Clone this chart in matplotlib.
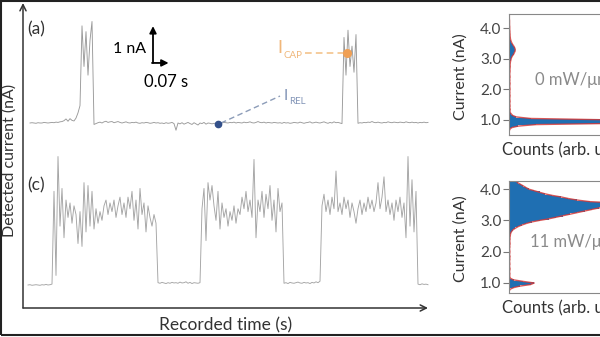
import numpy as np
import matplotlib
matplotlib.use('Agg')
import matplotlib.pyplot as plt
from matplotlib.patches import Rectangle

plt.rcParams['font.family'] = ['Lato', 'DejaVu Sans']

# ---- data ----
# trace (a), 0 mW: current in nA, one sample every 0.01 s
cur_a = [0.95, 0.96, 0.95, 0.94, 0.96, 0.95, 0.95, 0.97, 0.96, 0.95, 0.96, 0.97, 0.96, 0.98, 0.97, 0.99, 1.00,
         1.03, 1.09, 1.01, 1.10, 1.04, 1.02, 1.12, 1.30, 1.55,
         4.30, 2.90, 4.10, 2.60, 3.80, 4.45,
         0.90, 0.93, 0.96, 0.98, 0.95, 0.99, 1.01, 0.97, 0.99, 1.00,
         0.96, 0.98, 1.00, 0.97, 0.95, 0.97, 0.99, 0.96, 0.95, 0.97,
         0.96, 0.98, 0.95, 0.94, 0.96, 0.95, 0.97, 0.96, 0.94, 0.95,
         0.97, 0.95, 0.96, 0.94, 0.95, 0.93, 0.96, 0.94, 0.95, 0.97,
         0.93, 0.70, 0.95, 0.92, 0.96, 0.91, 0.94, 0.97, 0.93, 0.90,
         0.96, 0.92, 0.88, 0.95, 0.93, 0.97, 0.91, 0.95, 0.94, 0.92,
         0.94, 0.93,
         0.92, 0.94, 0.95, 0.97, 0.96, 0.95, 0.97, 0.96, 0.98, 0.95,
         0.97, 0.96, 0.95, 0.98, 0.96, 0.97, 0.99, 0.96, 0.95, 0.97,
         1.00, 0.97, 0.96, 0.98, 0.95, 0.97, 0.96, 0.95, 0.97, 0.96,
         0.95, 0.96, 0.94, 0.97, 0.95, 0.96, 0.94, 0.95, 0.97, 0.96,
         0.95, 0.98, 0.96, 0.94, 0.96, 0.97, 0.99, 0.95, 0.96, 0.98,
         0.96, 0.95, 0.97, 0.99, 0.96, 0.94, 0.97, 0.95, 0.99, 0.96,
         0.97, 0.95, 0.93,
         3.90, 2.60, 4.15, 2.90, 3.60, 2.70, 4.00,
         0.94, 0.96, 0.95, 0.97, 0.96, 0.98, 0.97, 1.00, 0.97, 0.96,
         0.98, 0.96, 0.95, 0.97, 0.96, 0.99, 0.97, 0.96, 0.98, 0.97,
         0.96, 0.98, 0.97, 0.96, 0.99, 0.97, 0.96, 0.98, 0.96, 0.97,
         0.95, 0.97, 0.96, 0.98, 0.96, 0.97]

# trace (c), 11 mW: current in nA, one sample every 0.01 s
cur_c = [0.97, 0.98, 0.96, 0.97, 0.98, 0.97, 0.96, 0.98, 0.97, 0.99, 0.97, 0.98,
         1.00, 4.20, 1.30, 5.40,
         3.0, 4.3, 2.6, 3.9,
         3.3, 3.8, 3.1, 3.7, 3.4,
         2.4, 3.5,
         2.3, 4.5, 2.8, 4.4, 3.0, 4.2, 2.9,
         3.6, 3.1, 3.5, 3.2, 3.7,
         3.9, 3.4, 3.8, 3.5, 3.9, 3.3, 3.7, 4.0, 3.4, 3.8, 3.3, 4.0, 3.6,
         4.2, 3.2, 3.9, 2.9, 4.3, 3.4, 3.8, 2.8, 3.7, 3.3,
         3.0, 3.4, 3.1,
         1.05, 1.03, 1.06, 1.04, 1.02, 1.05, 1.03, 1.06, 1.04, 1.05, 1.03,
         1.07, 1.04, 1.05, 1.08, 1.03, 1.06, 1.02, 1.05, 1.04, 1.03, 1.05,
         3.6, 4.3, 2.5,
         4.5, 3.9, 4.4, 3.7,
         3.2, 4.2, 2.9, 3.8,
         3.3, 3.6, 3.0, 3.5, 3.2, 3.7, 3.1, 3.6, 3.4,
         4.0, 3.6, 4.2, 3.5, 3.9, 3.3,
         5.3, 2.6, 3.9,
         3.5, 4.2, 3.3, 4.1, 3.6, 4.4, 3.2, 3.9, 2.8, 4.3, 3.5, 3.8,
         1.03, 1.05, 1.02, 1.06, 1.04, 1.03, 1.05, 1.07, 1.04, 1.03,
         1.06, 1.04, 1.05, 1.02, 1.06, 1.04, 1.08, 1.05, 1.10,
         3.7, 4.1, 3.5, 3.9, 3.4,
         4.0, 3.6, 4.9, 3.5, 3.8,
         3.4, 4.0, 3.6, 3.9, 3.3, 3.8, 3.5, 3.1,
         3.6, 3.9, 3.4, 3.8, 3.5, 4.0, 3.6, 3.9, 3.5, 3.8,
         4.5, 3.6, 4.0, 4.7, 3.5, 3.9, 3.4,
         3.8, 3.2, 3.9, 3.5, 4.0, 3.3, 3.8,
         2.6, 5.4, 3.0, 4.6, 2.8, 4.2,
         1.00, 0.98, 1.01, 0.99, 1.00, 0.98]

dt = 0.01
t0_a = 0.035
t0_c = 0.025

# marked levels in trace (a)
i_cap, t_cap = 3.35, 1.62
i_rel, t_rel = 0.90, 0.975

# histograms (counts, arb. units) on 0.05 nA bins from 0.50 nA
hist_centers = 0.50 + 0.05 * np.arange(80)
hist_0mw = [0, 0, 0, 0.002, 0.005, 0.015, 0.05, 0.15, 0.70, 2.20, 0.60, 0.12, 0.04, 0.02, 0.012,
            0.006, 0.005, 0.007, 0.004, 0.006, 0.005, 0.004, 0.006, 0.005, 0.004, 0.005,
            0.006, 0.004, 0.005, 0.004, 0.006, 0.005, 0.004, 0.005, 0.006, 0.004, 0.005,
            0.004, 0.006, 0.005, 0.004, 0.005, 0.006, 0.005, 0.006, 0.007, 0.006, 0.007,
            0.008, 0.010, 0.012, 0.015, 0.020, 0.026, 0.030, 0.034, 0.035, 0.032, 0.028,
            0.022, 0.017, 0.013, 0.010, 0.008,
            0.007, 0.006, 0.006, 0.005, 0.005, 0.004, 0.004, 0.004, 0.003, 0.003, 0.003,
            0.003, 0.002, 0.002, 0.002, 0.002]
hist_11mw = [0, 0, 0, 0, 0, 0.002, 0.006, 0.025, 0.06, 0.12, 0.14, 0.08, 0.025, 0.008, 0.004,
             0.004, 0.005, 0.003, 0.004, 0.006, 0.004, 0.003, 0.005, 0.004, 0.003, 0.005,
             0.004, 0.006, 0.003, 0.004, 0.005, 0.004, 0.003, 0.005, 0.004, 0.006, 0.005,
             0.004, 0.006, 0.005, 0.007, 0.008,
             0.010, 0.015, 0.022, 0.035, 0.050, 0.070, 0.095, 0.125, 0.17, 0.22, 0.26,
             0.30, 0.34, 0.38, 0.42, 0.46, 0.50, 0.56, 0.68, 0.62, 0.45, 0.38, 0.33,
             0.29, 0.24, 0.20, 0.17, 0.14, 0.11, 0.095, 0.08, 0.065, 0.05, 0.04,
             0.03, 0.022, 0.015, 0.010]

W, H = 600, 337


def fx(x):
    return x / W


def fy(y):
    return 1 - y / H


fig = plt.figure(figsize=(6, 3.37), dpi=100)
txt = '#333333'

# ---- main traces ----
px_t = 0.005   # s per pixel
px_i = 29.0    # pixels per nA
ax = fig.add_axes([fx(23), fy(308), 407 / W, 305 / H])
ax.set_xlim(0, 407 * px_t)
ax.set_ylim(0, 305 / px_i)
ax.axis('off')

off_a = 185 / px_i - 0.95
off_c = 23 / px_i - 0.97
t_a = t0_a + dt * np.arange(len(cur_a))
t_c = t0_c + dt * np.arange(len(cur_c))
ax.plot(t_a, np.array(cur_a) + off_a, color='#9a9a9a', lw=0.65)
ax.plot(t_c, np.array(cur_c) + off_c, color='#a4a4a4', lw=0.65)

arr = dict(arrowstyle='->', lw=1.1, color='#333333', shrinkA=0, shrinkB=0, mutation_scale=11)
ax.annotate('', xy=(0, 1), xytext=(0, 0), xycoords='axes fraction', arrowprops=arr)
ax.annotate('', xy=(405 / 407, 0), xytext=(0, 0), xycoords='axes fraction', arrowprops=arr)

# scale bar
sb = dict(arrowstyle='-|>', lw=1.3, color='black', shrinkA=0, shrinkB=0, mutation_scale=10)
ax.annotate('', xy=(0.65, 9.72), xytext=(0.65, 8.45), arrowprops=sb)
ax.annotate('', xy=(0.728, 8.45), xytext=(0.645, 8.45), arrowprops=sb)

# I_CAP / I_REL markers
ax.plot([t_cap - 0.21, t_cap], [i_cap + off_a] * 2, ls=(0, (4, 2.5)), color='#f4c48c', lw=1.2)
ax.plot(t_cap, i_cap + off_a, 'o', color='#f0a055', ms=5.5)
ax.plot([t_rel + 0.015, t_rel + 0.31], [i_rel + off_a + 0.05, i_rel + off_a + 0.98],
        ls=(0, (4, 2.5)), color='#8c9cb8', lw=1.0)
ax.plot(t_rel, i_rel + off_a, 'o', color='#33508a', ms=4.5)

fig.text(fx(27), fy(29), '(a)', fontsize=12.5, color=txt, va='center')
fig.text(fx(27), fy(185), '(c)', fontsize=12.5, color=txt, va='center')
fig.text(fx(146), fy(49), '1 nA', fontsize=11.5, color='black', ha='right', va='center')
fig.text(fx(166), fy(82), '0.07 s', fontsize=12, color='black', ha='center', va='center')
fig.text(fx(277), fy(48), 'I', fontsize=13, color='#f0b77a', va='center')
fig.text(fx(283), fy(56), 'CAP', fontsize=7, color='#f0b77a', va='center')
fig.text(fx(284), fy(96), 'I', fontsize=11, color='#8496b8', va='center')
fig.text(fx(289), fy(101), 'REL', fontsize=7, color='#8496b8', va='center')

fig.text(fx(10), fy(160), 'Detected current (nA)', rotation=90, fontsize=11.5,
         color=txt, ha='center', va='center')
fig.text(fx(226), fy(325), 'Recorded time (s)', fontsize=12.5, color=txt,
         ha='center', va='center')


# ---- histograms ----
def hist_panel(top, bottom, counts, ylim, power_txt, txt_x, txt_y):
    axh = fig.add_axes([fx(509), fy(bottom), 180 / W, (bottom - top) / H])
    axh.barh(hist_centers, counts, height=0.05, color='#1f6fb2', lw=0)
    axh.plot(counts, hist_centers, color='#d23a3a', lw=1.0, alpha=0.85)
    axh.set_xlim(0, 1)
    axh.set_ylim(ylim)
    axh.set_xticks([])
    axh.set_yticks([1, 2, 3, 4])
    axh.set_yticklabels(['1.0', '2.0', '3.0', '4.0'])
    axh.tick_params(axis='y', length=4, width=0.8, color='#777777',
                    labelsize=11, labelcolor='#444444', pad=1.5)
    for s in axh.spines.values():
        s.set_color('#888888')
        s.set_linewidth(0.8)
    mid = (top + bottom) / 2
    fig.text(fx(461), fy(mid + 2), 'Current (nA)', rotation=90, fontsize=11.5,
             color=txt, ha='center', va='center')
    fig.text(fx(502), fy(bottom + 15), 'Counts (arb. units)', fontsize=12,
             color=txt, ha='left', va='center')
    fig.text(fx(txt_x), fy(txt_y), power_txt, fontsize=12, color='#8a8a8a',
             ha='left', va='center')


hist_panel(14, 135, hist_0mw, (0.51, 4.46), '0 mW/μm²', 535, 80)
hist_panel(181, 293, hist_11mw, (0.68, 4.26), '11 mW/μm²', 530, 241)

fig.add_artist(Rectangle((fx(1), fy(335)), 2, fy(1) - fy(335), transform=fig.transFigure,
                         fill=False, lw=1.5, ec='#222222'))

fig.savefig('out.png', dpi=100)
